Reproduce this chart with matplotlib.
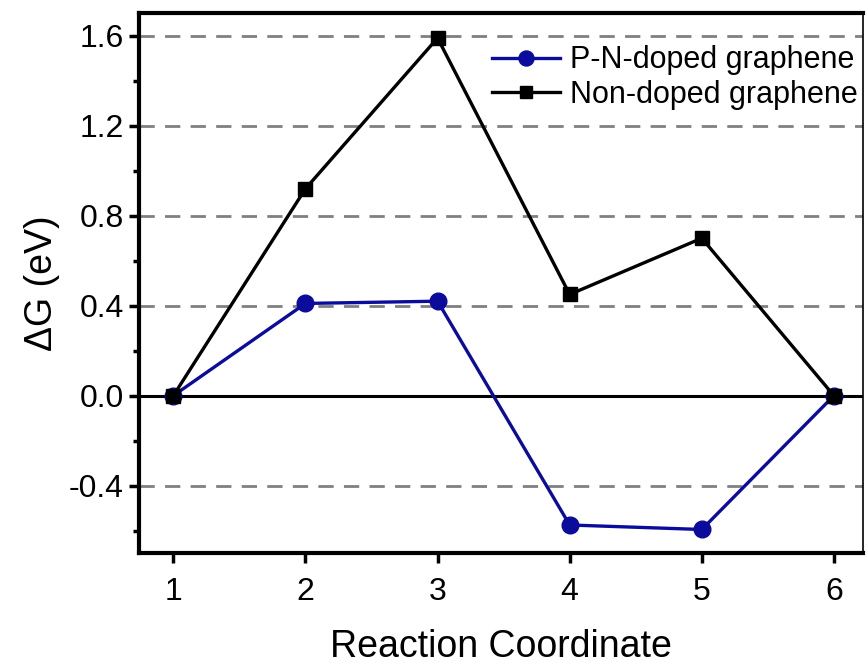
"""Reaction free-energy profile: P-N-doped vs non-doped graphene."""

import matplotlib
matplotlib.use("Agg")
import matplotlib.pyplot as plt
from matplotlib.ticker import MultipleLocator

plt.rcParams["font.family"] = ["Liberation Sans", "DejaVu Sans"]

# ── data ──
steps = [1, 2, 3, 4, 5, 6]
pn_doped = [0.0, 0.41, 0.42, -0.575, -0.595, 0.0]
non_doped = [0.0, 0.92, 1.59, 0.45, 0.70, 0.0]
grid_levels = [1.6, 1.2, 0.8, 0.4, -0.4]

C_BLUE = "#0b0b9c"
C_GRID = "#808080"

fig = plt.figure(figsize=(8.66, 6.64), dpi=100)
ax = fig.add_axes([0.1605, 0.167, 0.836, 0.813])

for g in grid_levels:
    ax.axhline(g, color=C_GRID, linestyle=(0, (5.5, 3.7)), linewidth=2.0, zorder=1)
ax.axhline(0.0, color="black", linewidth=2.2, zorder=1)

ax.plot(steps, pn_doped, "-o", color=C_BLUE, linewidth=2.4, markersize=12,
        label="P-N-doped graphene", zorder=3)
ax.plot(steps, non_doped, "-s", color="black", linewidth=2.4, markersize=10,
        label="Non-doped graphene", zorder=4)

ax.set_xlim(0.74, 6.22)
ax.set_ylim(-0.7, 1.7)
ax.set_xticks(steps)
ax.yaxis.set_major_locator(MultipleLocator(0.4))
ax.yaxis.set_minor_locator(MultipleLocator(0.2))
ax.yaxis.set_major_formatter(lambda v, p: f"{v:.1f}")

ax.tick_params(axis="both", which="major", direction="out", length=7, width=2.5,
               labelsize=23, pad=4)
ax.tick_params(axis="x", which="major", pad=10)
ax.tick_params(axis="y", which="minor", direction="out", length=4, width=2.5)

for side in ["left", "bottom", "top"]:
    ax.spines[side].set_linewidth(3.0)
ax.spines["right"].set_linewidth(1.2)

ax.set_xlabel("Reaction Coordinate", fontsize=27, labelpad=16)
ax.set_ylabel("ΔG (eV)", fontsize=27, labelpad=6)

ax.legend(loc="upper right", frameon=False, fontsize=22, handlelength=2.2,
          handletextpad=0.35, borderaxespad=0.0, labelspacing=0.15,
          markerscale=0.9, bbox_to_anchor=(1.01, 0.963))

fig.savefig("out.png", dpi=100)
